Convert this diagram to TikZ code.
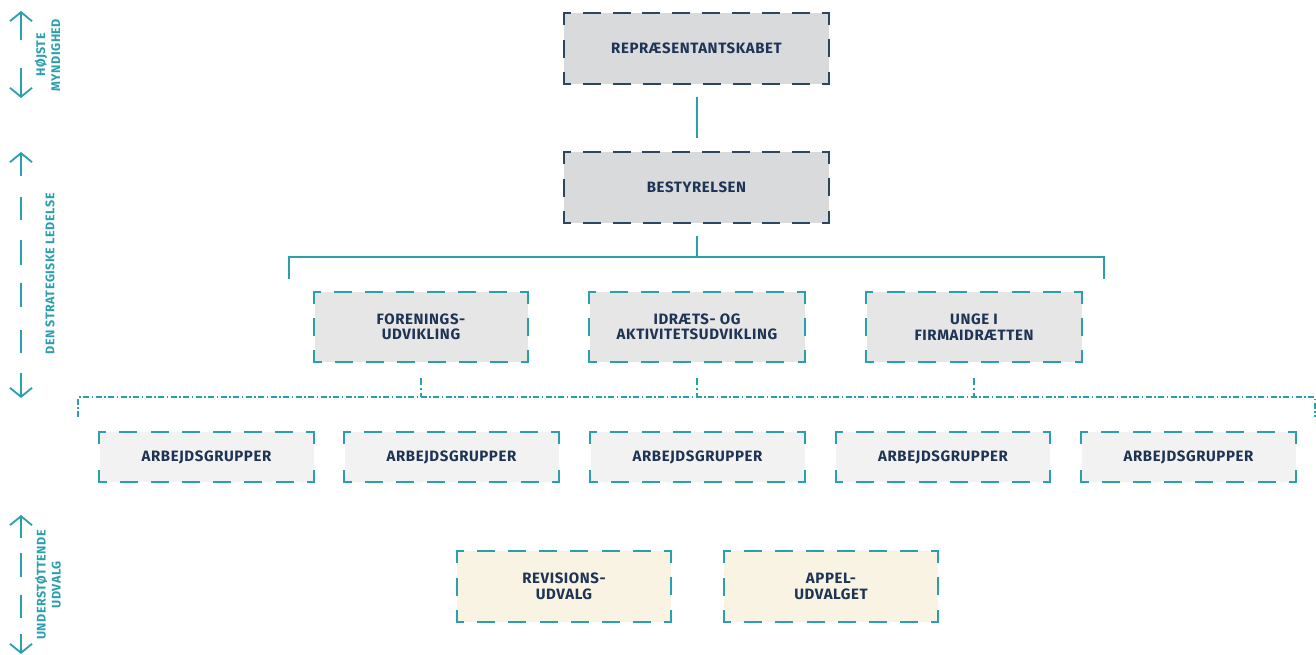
\documentclass[tikz,border=0pt]{standalone}
\usepackage{fontspec}
\setmainfont{Fira Sans}
\newfontfamily\boxfont{Fira Sans}[LetterSpace=4]
\usetikzlibrary{arrows.meta}
\definecolor{teal}{RGB}{42,160,172}
\definecolor{navyline}{RGB}{44,70,96}
\definecolor{navytext}{RGB}{30,52,84}
\definecolor{fillA}{RGB}{217,218,220}
\definecolor{fillB}{RGB}{230,230,230}
\definecolor{fillC}{RGB}{242,242,242}
\definecolor{fillD}{RGB}{249,243,228}
\tikzset{
  boxnode/.style={inner sep=0pt, align=center, text=navytext,
    font=\boxfont\bfseries\fontsize{15}{15.5}\selectfont},
  tealline/.style={draw=teal, line width=2pt},
  dashdotline/.style={draw=teal, line width=1.5pt, dash pattern=on 6pt off 2.5pt on 1.5pt off 2.5pt},
  stubline/.style={draw=teal, line width=2pt, dash pattern=on 7pt off 3pt on 2pt off 3pt},
  sidelbl/.style={rotate=90, text=teal, align=center, inner sep=0pt,
    font=\boxfont\bfseries\fontsize{12.5}{15}\selectfont},
  sidearrow/.style={draw=teal, line width=1.8pt, -{Straight Barb[length=9pt,width=22pt]}},
  sidedash/.style={draw=teal, line width=1.8pt},
}
% one side of a box: corner arm #5, full dashes 16pt, gaps about 14pt
\newcommand\bside[5]{%
  \pgfmathsetmacro\bk{max(0,floor((#3-2*#5)/30))}%
  \pgfmathsetmacro\bgap{(#3-2*#5-\bk*16)/(\bk+1)}%
  \pgfmathsetmacro\bph{16-#5}%
  \draw[#4, line width=2pt, line cap=rect, dash pattern=on 16pt off \bgap pt, dash phase=\bph pt] (#1) -- (#2);%
}
\newcommand\bordr[4]{%
  \bside{#1.north west}{#1.north east}{#2}{#4}{6}%
  \bside{#1.north east}{#1.south east}{#3}{#4}{11}%
  \bside{#1.south east}{#1.south west}{#2}{#4}{6}%
  \bside{#1.south west}{#1.north west}{#3}{#4}{11}%
}
\begin{document}
\begin{tikzpicture}[x=1pt,y=-1pt]
\useasboundingbox (0,0) rectangle (1316,655);

% top level
\node[boxnode, fill=fillA, minimum width=265pt, minimum height=71pt] (rep) at (696.5,48.5) {REPRÆSENTANTSKABET};
\node[boxnode, fill=fillA, minimum width=265pt, minimum height=71pt] (best) at (696.5,187.5) {BESTYRELSEN};
\bordr{rep}{265}{71}{navyline}
\bordr{best}{265}{71}{navyline}

% middle level
\node[boxnode, fill=fillB, minimum width=213pt, minimum height=70pt] (foren) at (421,327) {FORENINGS-\\UDVIKLING};
\node[boxnode, fill=fillB, minimum width=215pt, minimum height=70pt] (idr) at (697,327) {IDRÆTS- OG\\AKTIVITETSUDVIKLING};
\node[boxnode, fill=fillB, minimum width=215pt, minimum height=70pt] (unge) at (974,327) {UNGE I\\FIRMAIDRÆTTEN};
\bordr{foren}{213}{70}{teal}
\bordr{idr}{215}{70}{teal}
\bordr{unge}{215}{70}{teal}

% work groups
\foreach \n/\x in {arbA/206.5, arbB/451.5, arbC/697.5, arbD/943, arbE/1188.5}{
  \node[boxnode, fill=fillC, minimum width=214pt, minimum height=50pt] (\n) at (\x,457) {ARBEJDSGRUPPER};
  \bordr{\n}{214}{50}{teal}
}

% supporting committees
\node[boxnode, fill=fillD, minimum width=214pt, minimum height=71pt] (rev) at (564,586.5) {REVISIONS-\\UDVALG};
\node[boxnode, fill=fillD, minimum width=214pt, minimum height=71pt] (app) at (831,586.5) {APPEL-\\UDVALGET};
\bordr{rev}{214}{71}{teal}
\bordr{app}{214}{71}{teal}

% solid connectors
\draw[tealline] ([yshift=-13pt]rep.south) -- ([yshift=14pt]best.north);
\coordinate (bl) at (289,257);
\coordinate (br) at (1104,257);
\coordinate (blend) at (289,279);
\coordinate (brend) at (1104,279);
\draw[tealline] ([yshift=-13pt]best.south) -- (best.south |- bl);
\draw[tealline, line join=miter] (blend) -- (bl) -- (br) -- (brend);

% dash-dot connectors
\coordinate (dl) at (78,397);
\coordinate (dr) at (1315,397);
\coordinate (dlend) at (78,417);
\coordinate (drend) at (1315,417);
\draw[dashdotline] (dlend) -- (dl) -- (dr) -- (drend);
\foreach \m in {foren,idr,unge}{
  \draw[stubline] ([yshift=-16pt]\m.south) -- (\m.south |- dl);
}

% side labels with arrows
\coordinate (a1t) at (21,11);  \coordinate (a1s) at (21,40);
\coordinate (a1b) at (21,98);  \coordinate (a1u) at (21,68);
\draw[sidearrow] (a1s) -- (a1t);
\draw[sidearrow] (a1u) -- (a1b);
\node[sidelbl] (lblA) at (47.5,55) {HØJSTE\\MYNDIGHED};

\coordinate (a2t) at (21,152); \coordinate (a2s) at (21,176);
\coordinate (a2b) at (21,398); \coordinate (a2u) at (21,373);
\draw[sidearrow] (a2s) -- (a2t);
\draw[sidearrow] (a2u) -- (a2b);
\foreach \a/\b in {197/220, 240/265, 283/307, 330/353}{
  \draw[sidedash] (21,\a) -- (21,\b);
}
\node[sidelbl] (lblB) at (50,274) {DEN STRATEGISKE LEDELSE};

\coordinate (a3t) at (21,515); \coordinate (a3s) at (21,538);
\coordinate (a3b) at (21,654); \coordinate (a3u) at (21,634);
\draw[sidearrow] (a3s) -- (a3t);
\draw[sidearrow] (a3u) -- (a3b);
\foreach \a/\b in {553/577, 595/618}{
  \draw[sidedash] (21,\a) -- (21,\b);
}
\node[sidelbl] (lblC) at (48,585) {UNDERSTØTTENDE\\UDVALG};
\end{tikzpicture}
\end{document}
